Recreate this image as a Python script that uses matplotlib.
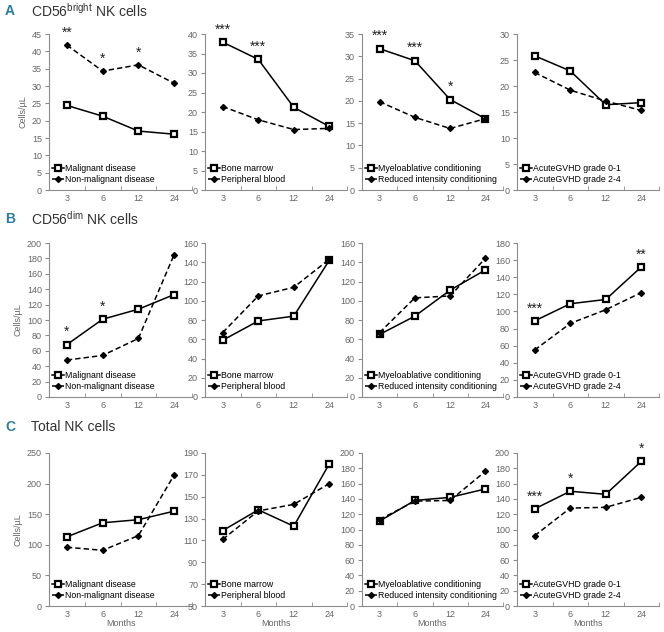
import matplotlib.pyplot as plt
from matplotlib.ticker import FixedLocator

plt.rcParams['font.family'] = ['Liberation Sans', 'DejaVu Sans']
plt.rcParams['mathtext.fontset'] = 'custom'
plt.rcParams['mathtext.rm'] = 'Liberation Sans'

months = ["3", "6", "12", "24"]

# row A: CD56bright
a_malig = [24.4, 21.3, 17.0, 16.1]
a_nonmalig = [41.8, 34.3, 36.1, 30.8]
a_bm = [37.9, 33.5, 21.2, 16.3]
a_pb = [21.4, 18.0, 15.5, 15.8]
a_mac = [31.7, 29.0, 20.3, 16.0]
a_ric = [19.8, 16.3, 13.8, 16.0]
a_g01 = [25.8, 22.9, 16.4, 16.8]
a_g24 = [22.6, 19.2, 17.1, 15.3]

# row B: CD56dim
b_malig = [68, 101, 114, 133]
b_nonmalig = [48, 54, 76, 185]
b_bm = [59, 79, 84, 142]
b_pb = [67, 105, 114, 143]
b_mac = [65, 84, 111, 132]
b_ric = [67, 103, 105, 144]
b_g01 = [89, 109, 114, 152]
b_g24 = [55, 86, 102, 122]

# row C: total NK
c_malig = [113, 136, 141, 155]
c_nonmalig = [96, 91, 115, 214]
c_bm = [119, 138, 123, 180]
c_pb = [111, 137, 143, 162]
c_mac = [111, 138, 142, 153]
c_ric = [113, 137, 138, 176]
c_g01 = [127, 150, 146, 189]
c_g24 = [92, 128, 129, 142]

lab_disease = ["Malignant disease", "Non-malignant disease"]
lab_source = ["Bone marrow", "Peripheral blood"]
lab_cond = ["Myeloablative conditioning", "Reduced intensity conditioning"]
lab_gvhd = ["AcuteGVHD grade 0-1", "AcuteGVHD grade 2-4"]

stars_a = [["**", "*", "*", ""], ["***", "***", "", ""], ["***", "***", "*", ""], ["", "", "", ""]]
stars_b = [["*", "*", "", ""], ["", "", "", ""], ["", "", "", ""], ["***", "", "", "**"]]
stars_c = [["", "", "", ""], ["", "", "", ""], ["", "", "", ""], ["***", "*", "", "*"]]

panels = [
    [(a_malig, a_nonmalig, lab_disease, 0, 45, 5), (a_bm, a_pb, lab_source, 0, 40, 5),
     (a_mac, a_ric, lab_cond, 0, 35, 5), (a_g01, a_g24, lab_gvhd, 0, 30, 5)],
    [(b_malig, b_nonmalig, lab_disease, 0, 200, 20), (b_bm, b_pb, lab_source, 0, 160, 20),
     (b_mac, b_ric, lab_cond, 0, 160, 20), (b_g01, b_g24, lab_gvhd, 0, 180, 20)],
    [(c_malig, c_nonmalig, lab_disease, 0, 250, 50), (c_bm, c_pb, lab_source, 50, 190, 20),
     (c_mac, c_ric, lab_cond, 0, 200, 20), (c_g01, c_g24, lab_gvhd, 0, 200, 20)],
]
stars = [stars_a, stars_b, stars_c]

W, H = 664, 632
fig = plt.figure(figsize=(W / 100, H / 100), dpi=100)

rows_px = [(34, 190), (243, 397), (453, 606)]
cols_px = [(49, 192), (205, 347), (362, 503), (517, 659)]
titles = [("A", r"CD56$^{\mathrm{bright}}$ NK cells", 11),
          ("B", r"CD56$^{\mathrm{dim}}$ NK cells", 219),
          ("C", "Total NK cells", 427)]

gray = "#8c8c8c"
x = list(range(len(months)))

for r, (top, bot) in enumerate(rows_px):
    letter, title, ty = titles[r]
    fig.text(5 / W, 1 - ty / H, letter, color="#2b7d9c", fontsize=10, fontweight="bold", va="center")
    fig.text(31 / W, 1 - ty / H, title, color="#333333", fontsize=10, va="center")
    for c, (left, right) in enumerate(cols_px):
        s1, s2, labels, ymin, ymax, step = panels[r][c]
        ax = fig.add_axes([left / W, 1 - bot / H, (right - left) / W, (bot - top) / H])
        ax.plot(x, s1, color="black", lw=1.1, marker="s", ms=5, mfc="white", mec="black", mew=1.6,
                label=labels[0], zorder=3)
        ax.plot(x, s2, color="black", lw=1.1, ls=(0, (3.5, 2)), marker="D", ms=3, mfc="black",
                mec="black", label=labels[1], zorder=3)
        for i, st in enumerate(stars[r][c]):
            if st:
                ax.annotate(st, (i, max(s1[i], s2[i])), xytext=(0, 4), textcoords="offset points",
                            ha="center", va="bottom", fontsize=10, color="#222222")
        ax.set_xlim(-0.5, 3.5)
        ax.set_ylim(ymin, ymax)
        ax.set_yticks(list(range(ymin, ymax + 1, step)))
        ax.set_xticks(x)
        ax.set_xticklabels(months)
        ax.xaxis.set_minor_locator(FixedLocator([-0.5, 0.5, 1.5, 2.5, 3.5]))
        ax.tick_params(axis="x", which="major", length=0, pad=3, labelsize=6.5, labelcolor="#666666")
        ax.tick_params(axis="x", which="minor", length=3, color=gray, direction="in")
        ax.tick_params(axis="y", length=3, color=gray, labelsize=6.5, labelcolor="#666666", pad=2)
        for sp in ["top", "right"]:
            ax.spines[sp].set_visible(False)
        for sp in ["left", "bottom"]:
            ax.spines[sp].set_color(gray)
            ax.spines[sp].set_linewidth(0.8)
        ax.legend(loc="lower left", bbox_to_anchor=(0.0, 0.02), frameon=False, fontsize=6.3,
                  handlelength=1.4, handletextpad=0.15, labelspacing=0.3, borderaxespad=0.2,
                  borderpad=0.1)
        if c == 0:
            ax.set_ylabel("Cells/µL", fontsize=6.5, color="#666666", labelpad=3)
        if r == 2:
            ax.set_xlabel("Months", fontsize=6.5, color="#666666", labelpad=0)

fig.savefig("out.png", dpi=100)
